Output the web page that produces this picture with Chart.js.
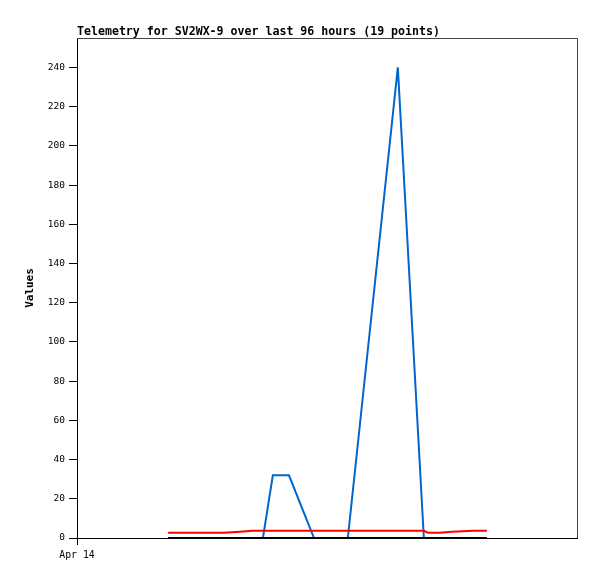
<!DOCTYPE html>
<html>
<head>
<meta charset="utf-8">
<title>Telemetry SV2WX-9</title>
<script src="https://cdn.jsdelivr.net/npm/chart.js@4/dist/chart.umd.min.js"></script>
<style>
    body { margin: 0; background: #fff; }
    #grafico { display: block; }
</style>
</head>
<body>
<canvas id="grafico" width="597" height="579"></canvas>
<script>
// dados (horas desde o inicio da janela de 96h)
const horas = [17.5, 21.7, 25.9, 28.2, 31.3, 33.6, 35.7, 37.6, 40.7, 45.5, 48.8, 52.0, 61.6, 66.6, 67.4, 69.7, 72.0, 76.2, 78.7];
const serieAzul = [0, 0, 0, 0, 0, 0, 0, 32, 32, 0, 0, 0, 240, 0, 0, 0, 0, 0, 0];
const serieVermelha = [2.7, 2.7, 2.7, 2.7, 3.2, 3.7, 3.7, 3.7, 3.7, 3.7, 3.7, 3.7, 3.7, 3.7, 2.7, 2.7, 3.2, 3.7, 3.7];
const seriePreta = [0, 0, 0, 0, 0, 0, 0, 0, 0, 0, 0, 0, 0, 0, 0, 0, 0, 0, 0];

const ticksY = [0, 20, 40, 60, 80, 100, 120, 140, 160, 180, 200, 220, 240];
const ticksX = [0];
const rotulosX = ['Apr 14'];

const titulo = 'Telemetry for SV2WX-9 over last 96 hours (19 points)';

function pontos(valores) {
    return valores.map((v, i) => ({ x: horas[i], y: v }));
}

// titulo e moldura do grafico
const molduraPlugin = {
    id: 'moldura',
    afterDraw(chart) {
        const ctx = chart.ctx;
        const a = chart.chartArea;
        ctx.save();
        ctx.strokeStyle = '#444';
        ctx.lineWidth = 1;
        ctx.beginPath();
        ctx.moveTo(a.left, a.top + 0.5);
        ctx.lineTo(a.right + 0.5, a.top + 0.5);
        ctx.lineTo(a.right + 0.5, a.bottom);
        ctx.stroke();
        ctx.fillStyle = '#000';
        ctx.font = 'bold 11.6px "DejaVu Sans Mono", monospace';
        ctx.textBaseline = 'middle';
        ctx.textAlign = 'left';
        ctx.fillText(titulo, a.left, 31.5);
        ctx.restore();
    }
};

const ctx = document.getElementById('grafico').getContext('2d');
const grafico = new Chart(ctx, {
    type: 'line',
    data: {
        datasets: [
            {
                label: 'Canal 3',
                data: pontos(seriePreta),
                borderColor: '#000000',
                borderWidth: 2,
                pointRadius: 0,
                tension: 0,
                order: 0
            },
            {
                label: 'Canal 2',
                data: pontos(serieVermelha),
                borderColor: '#ff0000',
                borderWidth: 2,
                pointRadius: 0,
                tension: 0,
                order: 1
            },
            {
                label: 'Canal 1',
                data: pontos(serieAzul),
                borderColor: '#0066cc',
                borderWidth: 2,
                pointRadius: 0,
                tension: 0,
                order: 2
            }
        ]
    },
    options: {
        responsive: false,
        animation: false,
        layout: {
            padding: { top: 38, right: 20, left: 0, bottom: 0 }
        },
        plugins: {
            legend: { display: false },
            title: { display: false },
            tooltip: { enabled: false }
        },
        scales: {
            x: {
                type: 'linear',
                min: 0,
                max: 96,
                afterBuildTicks: function(scale) {
                    scale.ticks = ticksX.map(v => ({ value: v }));
                },
                afterFit: function(scale) {
                    scale.height = 41;
                },
                grid: {
                    drawOnChartArea: false,
                    drawTicks: true,
                    tickLength: 7,
                    color: '#000'
                },
                border: { color: '#000', width: 1 },
                ticks: {
                    padding: 5,
                    maxRotation: 0,
                    color: '#000',
                    font: { family: '"DejaVu Sans Mono", monospace', size: 9.8 },
                    callback: function(value) {
                        const i = ticksX.indexOf(value);
                        return i >= 0 ? rotulosX[i] : '';
                    }
                }
            },
            y: {
                min: 0,
                max: 255,
                afterBuildTicks: function(scale) {
                    scale.ticks = ticksY.map(v => ({ value: v }));
                },
                afterFit: function(scale) {
                    scale.width = 77;
                },
                grid: {
                    drawOnChartArea: false,
                    drawTicks: true,
                    tickLength: 8,
                    color: '#000'
                },
                border: { color: '#000', width: 1 },
                ticks: {
                    padding: 4,
                    color: '#000',
                    font: { family: '"DejaVu Sans Mono", monospace', size: 9.5 }
                },
                title: {
                    display: true,
                    text: 'Values',
                    color: '#000',
                    padding: { top: 24, bottom: 0 },
                    font: { family: '"DejaVu Sans Mono", monospace', size: 11, weight: 'bold' }
                }
            }
        }
    },
    plugins: [molduraPlugin]
});
</script>
</body>
</html>
